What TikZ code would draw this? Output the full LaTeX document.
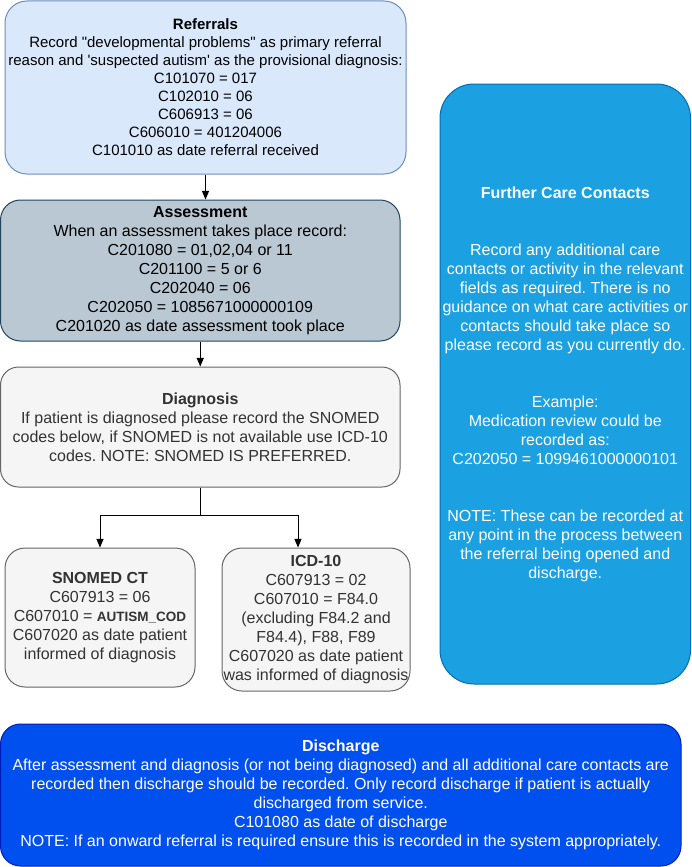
\documentclass[tikz,border=0pt]{standalone}
\usepackage{fontspec}
\setmainfont{Liberation Sans}[Ligatures=TeXOff]
\usepackage{tikz}
\usetikzlibrary{arrows}
\frenchspacing

\definecolor{refFill}{HTML}{DAE8FC}
\definecolor{refLine}{HTML}{6C8EBF}
\definecolor{assFill}{HTML}{BAC8D3}
\definecolor{assLine}{HTML}{23445D}
\definecolor{greyFill}{HTML}{F5F5F5}
\definecolor{greyLine}{HTML}{666666}
\definecolor{greyText}{HTML}{333333}
\definecolor{careFill}{HTML}{1BA1E2}
\definecolor{careLine}{HTML}{006EAF}
\definecolor{disFill}{HTML}{0050EF}
\definecolor{disLine}{HTML}{001DBC}

\begin{document}
\begin{tikzpicture}[x=1pt, y=-1pt, >=triangle 45, line width=1pt,
  box/.style={draw, rectangle, rounded corners=20pt, align=center, inner sep=0pt,
    font=\fontsize{16}{19}\selectfont},
  greybox/.style={box, fill=greyFill, draw=greyLine, text=greyText}]
  \useasboundingbox (0,0) rectangle (691,867);

  \node (ref) [box, fill=refFill, draw=refLine, rounded corners=22pt,
    minimum width=401pt, minimum height=173pt,
    font=\fontsize{15}{18}\selectfont] at (205.5,87.5)
    {\textbf{Referrals}\\
     Record "developmental problems" as primary referral\\
     reason and 'suspected autism' as the provisional diagnosis:\\
     C101070 = 017\\ C102010 = 06\\ C606913 = 06\\ C606010 = 401204006\\
     C101010 as date referral received};
  \node (assess) [box, fill=assFill, draw=assLine,
    minimum width=399.5pt, minimum height=141pt] at (200.25,270.5)
    {\textbf{Assessment}\\
     When an assessment takes place record:\\
     C201080 = 01,02,04 or 11\\ C201100 = 5 or 6\\ C202040 = 06\\
     C202050 = 1085671000000109\\
     C201020 as date assessment took place};
  \node (diag) [greybox, rounded corners=18pt,
    minimum width=399.5pt, minimum height=120pt] at (200.25,427)
    {\textbf{Diagnosis}\\
     If patient is diagnosed please record the SNOMED\\
     codes below, if SNOMED is not available use ICD-10\\
     codes. NOTE: SNOMED IS PREFERRED.};
  \node (snomed) [greybox, minimum width=190pt, minimum height=139pt] at (100,617.5)
    {\textbf{SNOMED CT}\\
     C607913 = 06\\
     C607010 = {\fontsize{13.5}{19}\selectfont\textbf{AUTISM\_COD}}\\
     C607020 as date patient\\ informed of diagnosis};
  \node (icd) [greybox, minimum width=188pt, minimum height=143pt] at (316,619.5)
    {\textbf{ICD-10}\\
     C607913 = 02\\ C607010 = F84.0\\ (excluding F84.2 and\\ F84.4), F88, F89\\
     C607020 as date patient\\ was informed of diagnosis};
  \node (care) [box, fill=careFill, draw=careLine, text=white, rounded corners=34pt,
    minimum width=250.5pt, minimum height=600pt] at (565.25,384)
    {\textbf{Further Care Contacts}\\[38pt]
     Record any additional care\\
     contacts or activity in the relevant\\
     fields as required. There is no\\
     guidance on what care activities or\\
     contacts should take place so\\
     please record as you currently do.\\[38pt]
     Example:\\
     Medication review could be\\
     recorded as:\\
     C202050 = 1099461000000101\\[38pt]
     NOTE: These can be recorded at\\
     any point in the process between\\
     the referral being opened and\\
     discharge.};
  \node (dis) [box, fill=disFill, draw=disLine, text=white,
    minimum width=680.5pt, minimum height=142pt] at (340.75,795)
    {\textbf{Discharge}\\
     After assessment and diagnosis (or not being diagnosed) and all additional care contacts are\\
     recorded then discharge should be recorded. Only record discharge if patient is actually\\
     discharged from service.\\
     C101080 as date of discharge\\
     NOTE: If an onward referral is required ensure this is recorded in the system appropriately.};

  \path[->]
  (ref) edge (ref.south |- assess.north)
  (assess) edge (diag)
  ;
  \draw[->] (diag.south) -- ++(0,28) -| (snomed.north);
  \draw[->] (diag.south) -- ++(0,28) -| ([xshift=-18pt]icd.north);
\end{tikzpicture}
\end{document}
